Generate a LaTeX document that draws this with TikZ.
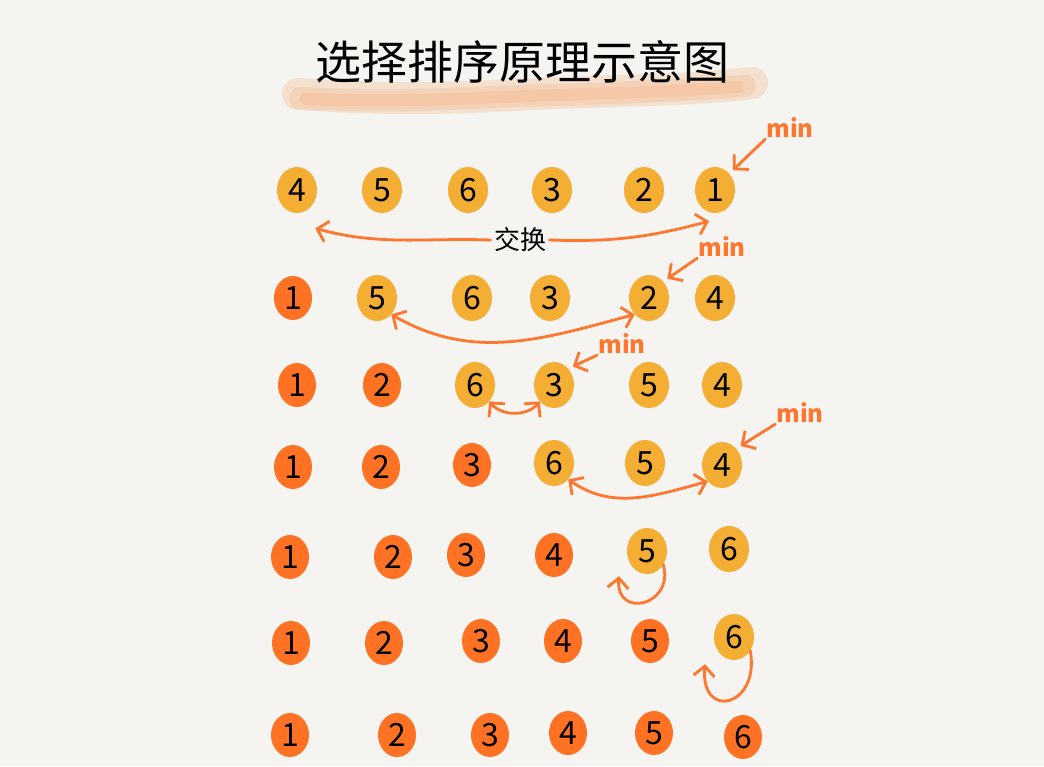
\documentclass[tikz,border=0pt]{standalone}
\usepackage{fontspec}
\newfontfamily\cjkfont{Noto Sans CJK SC}
\usetikzlibrary{calc,arrows.meta,shapes.geometric}
\definecolor{paper}{RGB}{245,244,240}
\definecolor{pendingfill}{RGB}{244,174,52}
\definecolor{sortedfill}{RGB}{255,114,36}
\definecolor{arrowink}{RGB}{255,118,46}
\definecolor{brushink}{RGB}{244,178,130}
\tikzset{
    pending ball/.style={
        ellipse,
        fill=pendingfill,
        minimum width=40pt,
        minimum height=46pt,
        inner sep=0pt,
        font=\cjkfont\fontsize{32}{32}\selectfont
    },
    sorted ball/.style={pending ball, fill=sortedfill,
        minimum width=38pt, minimum height=44pt},
    swap arrow/.style={line width=2.8pt, draw=arrowink, line cap=round, <->},
    min arrow/.style={line width=2.8pt, draw=arrowink, line cap=round, ->,
        shorten >=5pt},
    loop arrow/.style={line width=2.8pt, draw=arrowink, line cap=round, ->},
    min label/.style={text=arrowink, inner sep=1pt,
        font=\cjkfont\bfseries\fontsize{24}{24}\selectfont},
    title brush/.style={draw=brushink, line cap=round, opacity=.3}
}
\newcommand{\Ball}[4]{%
\node[#1 ball] (#2) at (#3) {#4};
}

\begin{document}
\begin{tikzpicture}[x=1pt,y=-1pt,>={Straight Barb[length=10pt,width=21pt]}]
    \fill[paper] (0,0) rectangle (1044,766);
    \useasboundingbox (0,0) rectangle (1044,766);
    % title with its brush stroke
    \draw[title brush,line width=32pt]
        (298,94) .. controls (420,102) and (480,96) .. (560,93)
        .. controls (640,90) and (690,90) .. (752,83);
    \draw[title brush,line width=22pt]
        (300,98) .. controls (420,104) and (480,96) .. (560,95)
        .. controls (640,92) and (690,90) .. (745,86);
    \draw[title brush,line width=12pt]
        (306,99) .. controls (420,103) and (480,97) .. (560,95)
        .. controls (640,92) and (690,91) .. (738,87);
    \node[font=\cjkfont\fontsize{46}{46}\selectfont] (title) at (522,62)
        {选择排序原理示意图};
    % row 1
    \Ball{pending}{r1c1}{297,190}{4}
    \Ball{pending}{r1c2}{382,190}{5}
    \Ball{pending}{r1c3}{468,190}{6}
    \Ball{pending}{r1c4}{552,190}{3}
    \Ball{pending}{r1c5}{644,190}{2}
    \Ball{pending}{r1c6}{715,190}{1}
    % row 2
    \Ball{sorted}{r2c1}{293,298}{1}
    \Ball{pending}{r2c2}{377,298}{5}
    \Ball{pending}{r2c3}{472,298}{6}
    \Ball{pending}{r2c4}{550,298}{3}
    \Ball{pending}{r2c5}{649,298}{2}
    \Ball{pending}{r2c6}{715,298}{4}
    % row 3
    \Ball{sorted}{r3c1}{297,385}{1}
    \Ball{sorted}{r3c2}{382,385}{2}
    \Ball{pending}{r3c3}{475,385}{6}
    \Ball{pending}{r3c4}{554,385}{3}
    \Ball{pending}{r3c5}{649,385}{5}
    \Ball{pending}{r3c6}{722,385}{4}
    % row 4
    \Ball{sorted}{r4c1}{293,467}{1}
    \Ball{sorted}{r4c2}{381,467}{2}
    \Ball{sorted}{r4c3}{472,465}{3}
    \Ball{pending}{r4c4}{554,463}{6}
    \Ball{pending}{r4c5}{645,463}{5}
    \Ball{pending}{r4c6}{722,465}{4}
    % row 5
    \Ball{sorted}{r5c1}{290,557}{1}
    \Ball{sorted}{r5c2}{393,557}{2}
    \Ball{sorted}{r5c3}{466,555}{3}
    \Ball{sorted}{r5c4}{554,555}{4}
    \Ball{pending}{r5c5}{647,551}{5}
    \Ball{pending}{r5c6}{729,549}{6}
    % row 6
    \Ball{sorted}{r6c1}{291,643}{1}
    \Ball{sorted}{r6c2}{384,643}{2}
    \Ball{sorted}{r6c3}{481,641}{3}
    \Ball{sorted}{r6c4}{563,641}{4}
    \Ball{sorted}{r6c5}{650,641}{5}
    \Ball{pending}{r6c6}{734,637}{6}
    % row 7
    \Ball{sorted}{r7c1}{290,735}{1}
    \Ball{sorted}{r7c2}{397,735}{2}
    \Ball{sorted}{r7c3}{490,735}{3}
    \Ball{sorted}{r7c4}{568,733}{4}
    \Ball{sorted}{r7c5}{654,733}{5}
    \Ball{sorted}{r7c6}{743,737}{6}
    % min markers
    \node[min label] (min1) at (790,128) {min};
    \node[min label] (min2) at (722,247) {min};
    \node[min label] (min3) at (622,344) {min};
    \node[min label] (min4) at (800,413) {min};
    \draw[min arrow] (min1.south west) -- (r1c6.north east);
    \draw[min arrow] (min2.south west) -- (r2c5.north east);
    \draw[min arrow] (min3.south west) -- (r3c4.north east);
    \draw[min arrow] (min4.south west) -- (r4c6.north east);
    % swaps
    \node[font=\cjkfont\fontsize{26}{26}\selectfont] (swap) at (520,240) {交换};
    \draw[swap arrow,->] (swap.west) to[out=178,in=-15]
        ([xshift=4pt,yshift=-22pt]r1c1.south east);
    \draw[swap arrow,->] (swap.east) to[out=-2,in=-165]
        ([xshift=-6pt,yshift=-8pt]r1c6.south);
    \draw[swap arrow] (r2c2.south east) to[out=-30,in=-165] (r2c5.south west);
    \draw[swap arrow] (r3c3.south east) to[out=-50,in=-130] (r3c4.south west);
    \draw[swap arrow] (r4c4.south east) to[out=-35,in=-165] (r4c6.south west);
    % nothing to swap
    \draw[loop arrow] (r5c5.-40) to[out=-75,in=-95,looseness=2.4]
        ([xshift=-28pt,yshift=-2pt]r5c5.south);
    \draw[loop arrow] (r6c6.-40) to[out=-80,in=-95,looseness=3.1]
        ([xshift=-29pt,yshift=-4pt]r6c6.south);
\end{tikzpicture}
\end{document}
